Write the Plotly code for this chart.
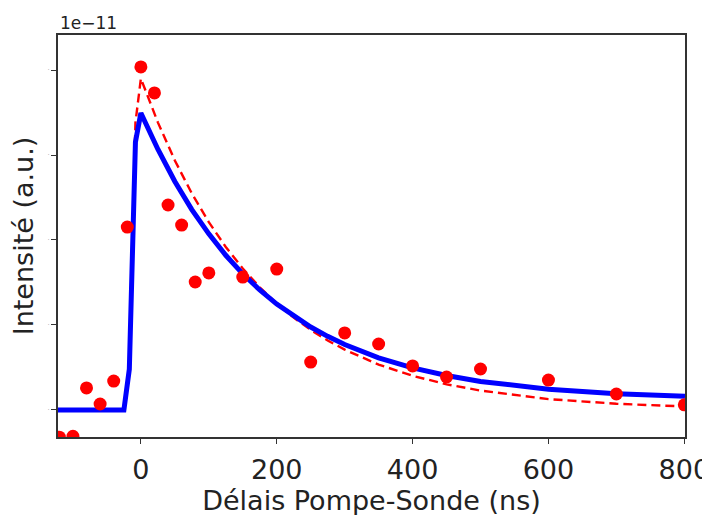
import plotly.graph_objects as go

# Measured points (intensity in units of 1e-11)
delay_pts = [-120, -100, -80, -60, -40, -20, 0, 20, 40, 60, 80, 100, 150, 200,
             250, 300, 350, 400, 450, 500, 600, 700, 800]
intensity_pts = [-0.16, -0.155, 0.13, 0.035, 0.17, 1.076, 2.018, 1.865, 1.206, 1.088,
                 0.753, 0.806, 0.782, 0.829, 0.282, 0.453, 0.388, 0.259, 0.194,
                 0.241, 0.176, 0.094, 0.03]

# Blue fit curve
fit_x = [-122, -25, -17, -8, 0, 25, 50, 75, 100, 125, 150, 175, 200, 225, 250,
         275, 300, 350, 400, 450, 500, 600, 700, 801]
fit_blue = [0, 0, 0.24, 1.576, 1.747, 1.534, 1.344, 1.179, 1.036, 0.910, 0.801,
            0.706, 0.623, 0.551, 0.488, 0.433, 0.385, 0.307, 0.248, 0.203, 0.168,
            0.1225, 0.096, 0.081]

# Red dashed model curve
model_x = [-25, -17, -8, 0, 25, 50, 75, 100, 125, 150, 175, 200, 225, 250, 275,
           300, 350, 400, 450, 500, 600, 700, 801]
model_red = [0, 0.27, 1.69, 1.95, 1.692, 1.468, 1.274, 1.105, 0.959, 0.832, 0.722,
             0.626, 0.543, 0.471, 0.409, 0.355, 0.267, 0.201, 0.151, 0.114, 0.064,
             0.0366, 0.0205]

x_ticks = [0, 200, 400, 600, 800]
y_ticks = [0, 0.5, 1.0, 1.5, 2.0]

fig = go.Figure()
fig.add_trace(go.Scatter(x=model_x, y=model_red, mode="lines",
                         line=dict(color="#ff0000", width=2.4, dash="9px,5px"),
                         showlegend=False))
fig.add_trace(go.Scatter(x=fit_x, y=fit_blue, mode="lines",
                         line=dict(color="#0000ff", width=5),
                         showlegend=False))
fig.add_trace(go.Scatter(x=delay_pts, y=intensity_pts, mode="markers",
                         marker=dict(color="#ff0000", size=13),
                         showlegend=False))

axis_common = dict(showgrid=False, zeroline=False, showline=True, automargin=False,
                   linecolor="#333333", linewidth=1.5, mirror=True,
                   ticks="outside", ticklen=5, tickwidth=1.2, tickcolor="#333333")

fig.update_xaxes(range=[-122, 801], tickvals=x_ticks,
                 ticktext=[str(v) for v in x_ticks],
                 ticklabelstandoff=3,
                 tickfont=dict(size=27, color="#222", family="DejaVu Sans"),
                 title=dict(text="Délais Pompe-Sonde (ns)", standoff=0,
                            font=dict(size=27, color="#222", family="DejaVu Sans")),
                 **axis_common)
fig.update_yaxes(range=[-0.159, 2.206], tickvals=y_ticks,
                 ticktext=["·"] * len(y_ticks),
                 tickfont=dict(size=7, color="#aaaaaa", family="DejaVu Sans"),
                 title=dict(text="Intensité (a.u.)", standoff=12,
                            font=dict(size=27, color="#222", family="DejaVu Sans")),
                 **axis_common)

fig.add_annotation(text="1e−11", xref="paper", yref="paper", x=0, y=1.0,
                   xanchor="left", yanchor="bottom", showarrow=False, yshift=0,
                   font=dict(size=17, color="#222", family="DejaVu Sans"))

fig.update_layout(width=710, height=515, plot_bgcolor="white", paper_bgcolor="white",
                  margin=dict(l=50, r=33, t=27, b=86))

fig.write_html("out.html")
